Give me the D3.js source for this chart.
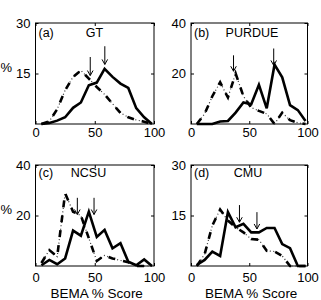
<!DOCTYPE html>
<html lang="en">
  <head>
    <meta charset="utf-8">
    <script src="https://d3js.org/d3.v7.min.js"></script>
    <style>
    body { margin: 0; background: #fff; }
    svg { display: block; }
    </style>
  </head>
  <body>
    <div id="place"></div>
    <script type="text/javascript">
    // score bins (BEMA % score) shared by every panel
    var xBins = [5, 11.7, 18.3, 25, 31.7, 38.3, 45, 51.7, 58.3, 65, 71.7, 78.3, 85, 91.7, 98.3];
    var xTicks = [0, 50, 100];

    // (a) GT
    var gtSolid   = [0, 0.3, 1.0, 2.0, 4.8, 6.4, 11.5, 12.3, 16.4, 14.0, 12.0, 10.7, 4.7, 2.0, 0];
    var gtDash    = [0, 0.8, 4.4, 10.0, 14.0, 15.9, 13.5, 11.0, 8.8, 6.0, 3.3, 2.0, 1.2, 0.7, 0];
    var gtArrows  = [[46.2, 19.9, 14.4], [58.5, 23.1, 17.7]];   // x, top, tip
    // (b) PURDUE
    var puSolid   = [0, 0, 0, 1.0, 1.2, 4.5, 8.5, 7.8, 15.5, 6.2, 23.5, 18.5, 7.5, 5.5, 1.2];
    var puDash    = [0, 4.0, 11.0, 16.5, 10.5, 20.0, 11.0, 6.5, 5.2, 4.0, 0, 4.5, 1.5, 0.5, 0];
    var puArrows  = [[36.5, 27.2, 20.9], [71, 29.9, 23.2]];
    // (c) NCSU
    var ncSolid   = [0.3, 2.4, 0.7, 3.0, 14.0, 12.0, 21.5, 11.5, 14.3, 7.0, 9.0, 1.7, 0.3, 2.6, 0];
    var ncDash    = [1.2, 6.3, 3.7, 28.8, 21.5, 20.0, 11.0, 2.0, 4.2, 3.0, 2.2, 1.5, 0, 0, 0];
    var ncArrows  = [[35.3, 27.0, 20.4], [49.4, 27.0, 20.4]];
    // (d) CMU
    var cmSolid   = [0.3, 1.8, 4.3, 3.0, 16.0, 11.5, 12.5, 10.0, 10.0, 11.3, 11.3, 6.5, 5.3, 0, 0];
    var cmDash    = [0, 3.5, 12.0, 16.8, 13.5, 11.5, 10.0, 8.0, 7.8, 4.5, 4.3, 3.0, 0, 0, 0];
    var cmArrows  = [[41.6, 18.1, 13.0], [56.6, 16.0, 11.0]];

    var panels = [
      { tag: '(a)', name: 'GT',     solid: gtSolid, dash: gtDash, arrows: gtArrows, yTicks: [15, 30] },
      { tag: '(b)', name: 'PURDUE', solid: puSolid, dash: puDash, arrows: puArrows, yTicks: [20, 40] },
      { tag: '(c)', name: 'NCSU',   solid: ncSolid, dash: ncDash, arrows: ncArrows, yTicks: [20, 40] },
      { tag: '(d)', name: 'CMU',    solid: cmSolid, dash: cmDash, arrows: cmArrows, yTicks: [15, 30] }
    ];

    // pixel layout of each axes box
    var layout = [
      { left: 35.5, right: 154, top: 23, bottom: 124, nameX: 59, tagY: 14, xPad: 3.5 },
      { left: 191,  right: 307.5, top: 23, bottom: 124, nameX: 61, tagY: 14, xPad: 3.5 },
      { left: 35.5, right: 154, top: 165, bottom: 266, nameX: 53, tagY: 11.5, xPad: 6.5 },
      { left: 191,  right: 307.5, top: 165, bottom: 266, nameX: 57, tagY: 11.5, xPad: 6.5 }
    ];

    var font = "'Liberation Sans', Arial, Helvetica, sans-serif";
    var width = 321, height = 300;

    var svg = d3.select('#place').append('svg')
      .attr('width', width)
      .attr('height', height);

    panels.forEach(function(p, i) {
      var L = layout[i];
      var yMax = p.yTicks[1];
      var x = d3.scaleLinear().domain([0, 100]).range([L.left, L.right]);
      var y = d3.scaleLinear().domain([0, yMax]).range([L.bottom, L.top]);
      var g = svg.append('g');

      // box
      g.append('rect')
        .attr('x', L.left).attr('y', L.top)
        .attr('width', L.right - L.left).attr('height', L.bottom - L.top)
        .attr('fill', 'none').attr('stroke', '#000').attr('stroke-width', 1);

      // axes with inward ticks
      g.append('g')
        .attr('transform', 'translate(0,' + L.bottom + ')')
        .call(d3.axisBottom(x).tickValues(xTicks).tickSizeInner(-3).tickSizeOuter(0).tickPadding(L.xPad));
      g.append('g')
        .attr('transform', 'translate(0,' + L.top + ')')
        .call(d3.axisTop(x).tickValues(xTicks).tickSizeInner(-3).tickSizeOuter(0).tickFormat(''));
      g.append('g')
        .attr('transform', 'translate(' + L.left + ',0)')
        .call(d3.axisLeft(y).tickValues(p.yTicks).tickSizeInner(-3).tickSizeOuter(0).tickPadding(5));
      g.append('g')
        .attr('transform', 'translate(' + L.right + ',0)')
        .call(d3.axisRight(y).tickValues(p.yTicks).tickSizeInner(-3).tickSizeOuter(0).tickFormat(''));
      g.selectAll('.domain').remove();
      g.selectAll('.tick text')
        .attr('font-size', 13)
        .attr('font-family', font)
        .attr('fill', '#000');

      var line = d3.line()
        .x(function(d, k) { return x(xBins[k]); })
        .y(function(d) { return y(d); });

      // dash-dot: thin dotted underlay + thick dashes
      g.append('path')
        .datum(p.dash)
        .attr('fill', 'none')
        .attr('stroke', '#333')
        .attr('stroke-width', 1.2)
        .attr('stroke-dasharray', '1,2.5')
        .attr('d', line);
      g.append('path')
        .datum(p.dash)
        .attr('fill', 'none')
        .attr('stroke', '#000')
        .attr('stroke-width', 2.6)
        .attr('stroke-dasharray', '7,8')
        .attr('d', line);

      // solid
      g.append('path')
        .datum(p.solid)
        .attr('fill', 'none')
        .attr('stroke', '#000')
        .attr('stroke-width', 2.6)
        .attr('stroke-linejoin', 'miter')
        .attr('d', line);

      // arrows marking the averages
      p.arrows.forEach(function(a) {
        var ax0 = x(a[0]), top = y(a[1]), tip = y(a[2]);
        g.append('path')
          .attr('fill', 'none')
          .attr('stroke', '#000')
          .attr('stroke-width', 1)
          .attr('d', 'M' + ax0 + ',' + top + 'V' + tip +
                     'M' + (ax0 - 2.8) + ',' + (tip - 5) + 'L' + ax0 + ',' + tip + 'L' + (ax0 + 2.8) + ',' + (tip - 5));
      });

      // panel tag and school name
      g.append('text')
        .attr('x', L.left + 3)
        .attr('y', L.top + L.tagY)
        .attr('font-size', 12.5)
        .attr('font-family', font)
        .text(p.tag);
      g.append('text')
        .attr('x', L.left + L.nameX)
        .attr('y', L.top + L.tagY)
        .attr('text-anchor', 'middle')
        .attr('font-size', 12.5)
        .attr('font-family', font)
        .text(p.name);

      // y label on the left column
      if (i % 2 === 0) {
        g.append('text')
          .attr('x', 12)
          .attr('y', (L.top + L.bottom) / 2 - 2)
          .attr('text-anchor', 'end')
          .attr('font-size', 13)
          .attr('font-family', font)
          .text('%');
      }
      // x label on the bottom row
      if (i >= 2) {
        g.append('text')
          .attr('x', (L.left + L.right) / 2 + 2)
          .attr('y', 298)
          .attr('text-anchor', 'middle')
          .attr('font-size', 13.5)
          .attr('font-family', font)
          .text('BEMA % Score');
      }
    });
    </script>
  </body>
</html>
